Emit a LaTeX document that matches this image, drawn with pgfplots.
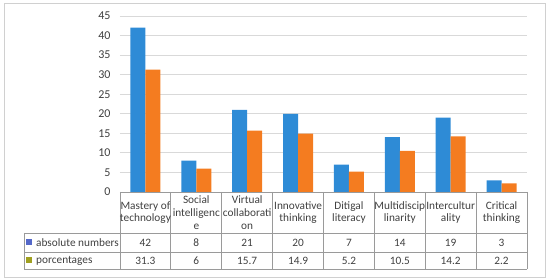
\documentclass[border=0pt]{standalone}
\usepackage{pgfplots}
\pgfplotsset{compat=1.18}
\usepackage{fontspec}
\setmainfont{Carlito}
\definecolor{cabs}{HTML}{2E8BD6}
\definecolor{cpct}{HTML}{F47C20}
\definecolor{clegA}{HTML}{5468C9}
\definecolor{clegB}{HTML}{A0A020}
\definecolor{cgrid}{HTML}{D9D9D9}
\definecolor{ctab}{HTML}{9A9A9A}
\definecolor{ctxt}{HTML}{404040}
\definecolor{cframe}{HTML}{D0D0D0}
\newcommand{\tabfont}{\fontsize{11.3}{12.8}\selectfont}
\begin{document}
\begin{tikzpicture}[x=1pt,y=1pt]
\useasboundingbox (0,0) rectangle (550,279);
\draw[cframe, line width=0.8pt] (4,2) rectangle (545,276);
\begin{axis}[at={(120pt,87pt)}, anchor=south west, scale only axis,
  width=407pt, height=176pt,
  ybar=0pt, bar width=15pt,
  xmin=0.5, xmax=8.5, ymin=0, ymax=45,
  ytick={0,5,...,45}, xtick=\empty,
  axis line style={draw=none}, ymajorgrids,
  grid style={cgrid, line width=0.8pt},
  major tick length=0pt,
  tick label style={font=\fontsize{12}{14}\selectfont, text=ctxt},
  yticklabel style={xshift=-6pt},
  /pgf/number format/assume math mode=true, clip=false]
\addplot[fill=cabs, draw=none] coordinates {(1,42) (2,8) (3,21) (4,20) (5,7) (6,14) (7,19) (8,3)};
\addplot[fill=cpct, draw=none] coordinates {(1,31.3) (2,6) (3,15.7) (4,14.9) (5,5.2) (6,10.5) (7,14.2) (8,2.2)};
\end{axis}
% data table under the plot
\begin{scope}[ctab, line width=0.8pt]
\draw (120,87) -- (527,87);
\draw (24,46) -- (527,46);
\draw (24,27) -- (527,27);
\draw (24,10) -- (527,10);
\draw (24,46) -- (24,10);
\foreach \i in {0,...,8} \draw ({120+\i*50.875},87) -- ({120+\i*50.875},10);
\end{scope}
\foreach \lab [count=\i] in {Mastery of\\technology, Social\\intelligenc\\e, Virtual\\collaborati\\on, Innovative\\thinking, Ditigal\\literacy, Multidiscip\\linarity, Intercultur\\ality, Critical\\thinking}
  \node[align=center, font=\tabfont, text=ctxt, inner sep=0pt] at ({120+(\i-0.5)*50.875},66.5) {\lab};
\foreach \v [count=\i] in {42,8,21,20,7,14,19,3}
  \node[font=\tabfont, text=ctxt] at ({120+(\i-0.5)*50.875},36.5) {\v};
\foreach \v [count=\i] in {31.3,6,15.7,14.9,5.2,10.5,14.2,2.2}
  \node[font=\tabfont, text=ctxt] at ({120+(\i-0.5)*50.875},18.5) {\v};
\fill[clegA] (26,33.5) rectangle (32,39.5);
\fill[clegB] (26,15.5) rectangle (32,21.5);
\node[font=\tabfont, text=ctxt, anchor=west, inner sep=0pt] at (36,36.5) {absolute numbers};
\node[font=\tabfont, text=ctxt, anchor=west, inner sep=0pt] at (36,18.5) {porcentages};
\end{tikzpicture}
\end{document}
